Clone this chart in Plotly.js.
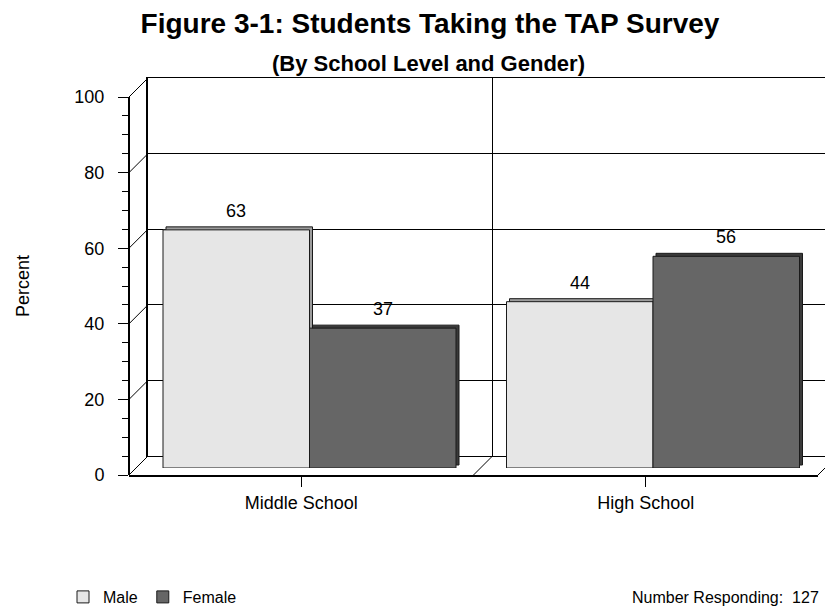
<!DOCTYPE html>
<html>
<head>
<meta charset="utf-8">
<script src="https://cdn.plot.ly/plotly-3.0.1.min.js"></script>
<style>
  html, body { margin: 0; padding: 0; background: #ffffff; }
  #chart { width: 825px; height: 608px; }
</style>
</head>
<body>
<div id="chart"></div>
<script>
// Survey counts by school level and gender (percent of respondents)
const categories = ['Middle School', 'High School'];
const maleValues = [63, 44];
const femaleValues = [37, 56];
const seriesNames = ['Male', 'Female'];
const gridValues = [0, 20, 40, 60, 80, 100];
const respondents = 127;

// Page and pseudo-3D box geometry (pixels)
const W = 825, H = 608;
const FONT = 'Liberation Sans, Arial, sans-serif';
const front = { left: 129, right: 818, bottom: 475, top: 97 };
const depth = 19;                      // wall offset, right and up
const back = { left: front.left + depth, bottom: front.bottom - depth, top: front.top - depth };
const barPlane = { left: 137.75, right: 824.75, bottom: 468, top: 90 };
const capPx = 3;                       // visible column thickness
const BARGAP = 0.147;

const fx = px => px / W;
const fy = py => 1 - py / H;
const frontY = v => front.bottom - (front.bottom - front.top) * v / 100;
const backY = v => back.bottom - (back.bottom - back.top) * v / 100;

// back wall spans two categories across the same width as the front edge
const catPx = (front.right - front.left) / categories.length;
const backRangeEnd = (W - back.left) / catPx;

// column thickness expressed in axis units
const capX = capPx / ((barPlane.right - barPlane.left) / categories.length);
const capY = capPx / ((barPlane.bottom - barPlane.top) / 100);

const faceColors = ['#e6e6e6', '#666666'];
const sideColors = ['#9c9c9c', '#3a3a3a'];
const seriesValues = [maleValues, femaleValues];

const traces = [];
// empty traces so the wall and front-axis subplots get drawn
traces.push({ type: 'scatter', mode: 'markers', x: [], y: [], xaxis: 'x', yaxis: 'y',
  showlegend: false, hoverinfo: 'skip' });
// column sides/tops, drawn first so the faces sit on top
seriesValues.forEach((vals, k) => {
  traces.push({
    type: 'bar', x: categories, y: vals, name: seriesNames[k],
    xaxis: 'x2', yaxis: 'y2', showlegend: false, hoverinfo: 'skip',
    marker: { color: sideColors[k], line: { color: '#1a1a1a', width: 1 } }
  });
});
// column faces
seriesValues.forEach((vals, k) => {
  traces.push({
    type: 'bar', x: categories, y: vals, name: seriesNames[k],
    xaxis: 'x3', yaxis: 'y3', showlegend: true,
    marker: { color: faceColors[k], line: { color: '#1a1a1a', width: 1 } }
  });
});
traces.push({ type: 'scatter', mode: 'markers', x: [], y: [], xaxis: 'x4', yaxis: 'y4',
  showlegend: false, hoverinfo: 'skip' });

const hidden = { visible: true, showgrid: false, zeroline: false, showline: false,
                 showticklabels: false, ticks: '', fixedrange: true };

const shapes = [];
// side-wall lines joining the front axis ticks to the back wall
gridValues.forEach(v => {
  shapes.push({ type: 'line', xref: 'paper', yref: 'paper', layer: 'below',
    x0: fx(front.left), y0: fy(frontY(v)), x1: fx(back.left), y1: fy(backY(v)),
    line: { color: '#000000', width: 1 } });
});
// floor edges: category divider and right end
for (let i = 1; i <= categories.length; i++) {
  const xf = front.left + catPx * i;
  let xb = xf + depth, yb = back.bottom;
  if (xb > W) { yb = front.bottom - (W - xf); xb = W; }
  shapes.push({ type: 'line', xref: 'paper', yref: 'paper', layer: 'below',
    x0: fx(xf), y0: fy(front.bottom), x1: fx(xb), y1: fy(yb),
    line: { color: '#000000', width: 1 } });
}

const labelFont = { family: FONT, size: 18, color: '#000000' };
const annotations = [];
const offs = (1 - BARGAP) / 4;
seriesValues.forEach((vals, k) => {
  vals.forEach((v, i) => {
    annotations.push({ xref: 'x3', yref: 'y3', x: i + (k === 0 ? -offs : offs), y: v,
      text: String(v), showarrow: false, yanchor: 'bottom', yshift: 7, font: labelFont });
  });
});
annotations.push({ xref: 'paper', yref: 'paper', x: fx(428), y: fy(63),
  xanchor: 'center', yanchor: 'middle', showarrow: false,
  text: '<b>(By School Level and Gender)</b>', font: { family: FONT, size: 22, color: '#000000' } });
annotations.push({ xref: 'paper', yref: 'paper', x: fx(821), y: fy(597),
  xanchor: 'right', yanchor: 'middle', showarrow: false,
  text: 'Number Responding:\u00a0 ' + respondents, font: { family: FONT, size: 16, color: '#000000' } });

const layout = {
  width: W, height: H,
  margin: { l: 0, r: 0, t: 0, b: 0, autoexpand: false },
  paper_bgcolor: '#ffffff', plot_bgcolor: 'rgba(0,0,0,0)',
  font: { family: FONT, color: '#000000' },
  title: { text: '<b>Figure 3-1: Students Taking the TAP Survey</b>',
    font: { family: FONT, size: 28, color: '#000000' },
    x: fx(430), xref: 'paper', xanchor: 'center',
    y: fy(23), yref: 'container', yanchor: 'middle' },
  barmode: 'group', bargap: BARGAP, bargroupgap: 0,
  showlegend: true,
  legend: { orientation: 'h', x: fx(63), y: fy(597), xanchor: 'left', yanchor: 'middle',
    bgcolor: 'rgba(0,0,0,0)', font: { family: FONT, size: 16, color: '#000000' },
    traceorder: 'normal', itemclick: false, itemdoubleclick: false },
  // back wall: horizontal grid, category divider, floor back edge and top edge
  xaxis: { visible: true, domain: [fx(back.left), 1], range: [0, backRangeEnd], anchor: 'y',
    showgrid: true, gridcolor: '#000000', gridwidth: 1, tickvals: [1],
    showline: true, mirror: true, linecolor: '#000000', linewidth: 1,
    zeroline: false, showticklabels: false, ticks: '', fixedrange: true },
  yaxis: { visible: true, domain: [fy(back.bottom), fy(back.top)], range: [0, 100], anchor: 'x',
    showgrid: true, gridcolor: '#000000', gridwidth: 1, dtick: 20,
    zeroline: true, zerolinecolor: '#000000', zerolinewidth: 1,
    showline: true, linecolor: '#000000', linewidth: 2,
    showticklabels: false, ticks: '', fixedrange: true },
  // column sides, nudged right and up by the column thickness
  xaxis2: Object.assign({}, hidden, { domain: [fx(barPlane.left), fx(barPlane.right)],
    type: 'category', range: [-0.5 - capX, 1.5 - capX], anchor: 'y2' }),
  yaxis2: Object.assign({}, hidden, { domain: [fy(barPlane.bottom), fy(barPlane.top)],
    range: [-capY, 100 - capY], anchor: 'x2' }),
  // column faces
  xaxis3: Object.assign({}, hidden, { overlaying: 'x2', type: 'category',
    range: [-0.5, 1.5], anchor: 'y3' }),
  yaxis3: Object.assign({}, hidden, { overlaying: 'y2', range: [0, 100], anchor: 'x3' }),
  // front axes with ticks and labels
  xaxis4: { visible: true, domain: [fx(front.left), fx(front.right)], range: [-0.5, 1.5], anchor: 'y4',
    tickvals: categories.map((c, i) => i), ticktext: categories,
    ticks: 'outside', ticklen: 10, tickwidth: 1, tickcolor: '#000000', ticklabelstandoff: 0,
    tickfont: labelFont, showline: true, linecolor: '#000000', linewidth: 2,
    showgrid: false, zeroline: false, fixedrange: true },
  yaxis4: { visible: true, domain: [fy(front.bottom), fy(front.top)], range: [0, 100], anchor: 'free',
    position: fx(front.left), dtick: 20, ticks: 'outside', ticklen: 10, tickwidth: 1,
    tickcolor: '#000000', ticklabelstandoff: 10, tickfont: labelFont,
    minor: { dtick: 5, ticks: 'outside', ticklen: 6, tickwidth: 1, tickcolor: '#000000', showgrid: false },
    showline: true, linecolor: '#000000', linewidth: 2, showgrid: false, zeroline: false,
    title: { text: 'Percent', font: labelFont, standoff: 39 }, fixedrange: true },
  shapes: shapes,
  annotations: annotations
};

Plotly.newPlot('chart', traces, layout, { displayModeBar: false, staticPlot: true });
</script>
</body>
</html>
